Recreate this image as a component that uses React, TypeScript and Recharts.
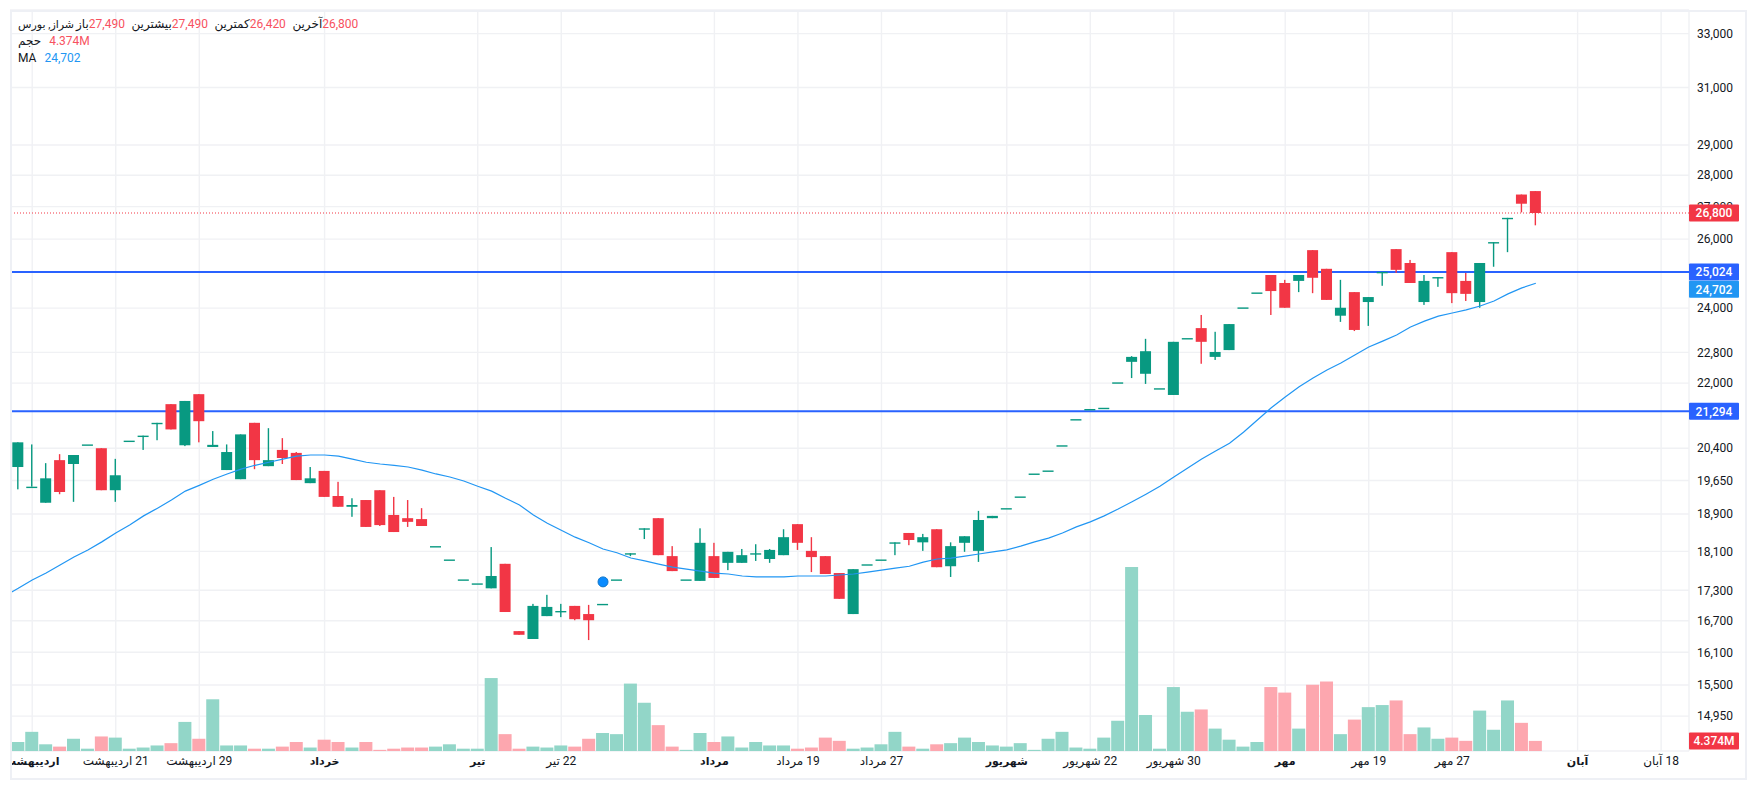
import { Bar, CartesianGrid, ComposedChart, Line, ReferenceDot, ReferenceLine, XAxis, YAxis } from "recharts";

const UP = "#089981";
const DOWN = "#f23645";
const FONT = "Roboto, 'DejaVu Sans', sans-serif";
const TOTAL_BARS = 120;

const opens = [
  19960, 19510, 19150, 20120, 20030, 20490, 20400, 19430, 20580, 20700,
  21010, 21470, 20470, 21720, 20430, 19890, 19680, 21010, 19980, 20360,
  20290, 19590, 19870, 19300, 19060, 19210, 19430, 18880, 18810, 18790,
  18210, 17930, 17520, 17440, 17340, 17840, 16500, 16350, 16790, 16890,
  16990, 16830, 17030, 17520, 18060, 18590, 18810, 18000, 17520, 17490,
  18000, 17860, 17860, 18060, 17940, 18020, 18680, 18110, 18000, 17650,
  16830, 17830, 17930, 18290, 18490, 18290, 18570, 17790, 18280, 18110,
  18810, 19030, 19290, 19810, 19880, 20470, 21100, 21350, 21380, 22020,
  22550, 22240, 21870, 21700, 23180, 23450, 22680, 22860, 24020, 24440,
  24940, 24710, 24770, 25670, 25120, 23790, 24450, 24170, 25030, 25700,
  25290, 24170, 24880, 25610, 24770, 24170, 25910, 26650, 27380, 27490,
];
const highs = [
  20540, 20490, 20050, 20260, 20240, 20490, 20400, 20150, 20580, 20700,
  21010, 21470, 21550, 21720, 20810, 20490, 20730, 21010, 20880, 20640,
  20310, 19960, 19870, 19620, 19250, 19210, 19430, 19280, 19210, 19030,
  18210, 17930, 17520, 17440, 18190, 17840, 16500, 17030, 17210, 17030,
  16990, 17010, 17030, 17520, 18060, 18590, 18810, 18210, 17520, 18590,
  18280, 18090, 18150, 18250, 18150, 18570, 18680, 18400, 18000, 17650,
  17730, 17830, 17930, 18290, 18490, 18470, 18570, 18290, 18420, 18970,
  18860, 19030, 19290, 19810, 19880, 20470, 21100, 21350, 21380, 22020,
  22700, 23160, 21870, 23080, 23180, 23810, 23350, 23560, 24020, 24440,
  24940, 24800, 24940, 25670, 25120, 24800, 24450, 24310, 25030, 25700,
  25380, 24940, 24880, 25610, 25000, 25290, 25910, 26650, 27380, 27490,
];
const lows = [
  19450, 19510, 19150, 19340, 19170, 20490, 19430, 19170, 20580, 20360,
  20590, 20850, 20450, 20540, 20430, 19890, 19680, 19910, 19980, 20030,
  19660, 19590, 19280, 19060, 18840, 18620, 18640, 18510, 18620, 18640,
  18210, 17930, 17520, 17440, 17340, 16870, 16430, 16350, 16790, 16770,
  16710, 16330, 17030, 17520, 18000, 18360, 18020, 17690, 17520, 17490,
  17550, 17710, 17860, 17900, 17860, 18020, 18130, 17670, 17630, 17130,
  16830, 17830, 17930, 18020, 18230, 18110, 17770, 17570, 18090, 17880,
  18810, 19030, 19290, 19810, 19880, 20470, 21100, 21350, 21380, 22020,
  22130, 21980, 21870, 21700, 23180, 22500, 22600, 22860, 24020, 24440,
  23810, 24010, 24450, 24420, 24230, 23620, 23370, 23510, 24630, 25000,
  24710, 24090, 24600, 24140, 24200, 24010, 25180, 25610, 26820, 26420,
];
const closes = [
  20540, 19510, 19700, 19390, 20240, 20490, 19430, 19770, 20580, 20700,
  21010, 20850, 21550, 21050, 20480, 20310, 20730, 20120, 20120, 20170,
  19660, 19700, 19280, 19060, 19100, 18620, 18660, 18510, 18730, 18640,
  18210, 17930, 17520, 17440, 17590, 16870, 16430, 16990, 16970, 16890,
  16730, 16710, 17030, 17520, 18060, 18590, 18020, 17690, 17520, 18280,
  17550, 18090, 18020, 18060, 18130, 18400, 18280, 17980, 17630, 17130,
  17730, 17830, 17930, 18290, 18340, 18400, 17770, 18210, 18420, 18770,
  18860, 19030, 19290, 19810, 19880, 20470, 21100, 21350, 21380, 22020,
  22680, 22830, 21870, 23080, 23180, 23080, 22810, 23560, 24020, 24440,
  24480, 24010, 24940, 24860, 24230, 24010, 23400, 24310, 25030, 25090,
  24710, 24770, 24880, 24420, 24400, 25290, 25910, 26650, 27090, 26800,
];
const maBeforeFirstBar = 17180;
const maValues = [
  17340, 17510, 17650, 17815, 17980, 18130, 18300, 18490, 18660, 18860,
  19030, 19210, 19410, 19540, 19680, 19800, 19910, 20000, 20070, 20145,
  20215, 20240, 20240, 20215, 20145, 20070, 20030, 20000, 19960, 19890,
  19800, 19730, 19640, 19520, 19410, 19250, 19100, 18880, 18700, 18550,
  18400, 18280, 18150, 18070, 17960, 17900, 17835, 17770, 17730, 17690,
  17650, 17630, 17590, 17570, 17570, 17570, 17590, 17590, 17590, 17610,
  17630, 17670, 17710, 17750, 17790, 17875, 17940, 17960, 18000, 18045,
  18090, 18130, 18210, 18300, 18380, 18490, 18620, 18730, 18860, 19010,
  19170, 19340, 19520, 19730, 19940, 20145, 20335, 20520, 20780, 21080,
  21380, 21650, 21905, 22130, 22340, 22520, 22730, 22940, 23100, 23265,
  23480, 23640, 23780, 23865, 23950, 24060, 24200, 24400, 24570, 24702,
];
const volumes = [
  3.9, 8.3, 2.9, 1.9, 5.3, 1.0, 6.3, 5.8, 1.0, 1.5,
  2.4, 3.4, 12.6, 5.3, 22.4, 2.4, 2.4, 1.0, 1.0, 1.9,
  3.9, 1.5, 4.9, 3.9, 1.5, 3.9, 0.5, 1.0, 1.5, 1.5,
  1.9, 2.9, 1.0, 1.0, 31.6, 7.3, 1.0, 1.9, 1.5, 2.4,
  1.9, 5.3, 7.8, 7.3, 29.2, 20.9, 11.2, 1.9, 0.5, 7.8,
  3.9, 6.3, 1.5, 3.9, 2.4, 2.4, 1.0, 1.5, 5.8, 4.4,
  1.0, 1.5, 2.9, 8.3, 1.9, 1.0, 2.9, 3.4, 5.8, 3.9,
  2.4, 1.9, 3.4, 0.5, 5.3, 8.3, 1.5, 1.0, 5.8, 13.1,
  79.7, 15.6, 1.0, 27.7, 17.0, 18.0, 9.7, 4.9, 1.9, 3.9,
  27.7, 25.3, 9.7, 28.7, 30.1, 7.3, 13.6, 19.0, 19.9, 21.9,
  7.3, 10.2, 5.3, 5.8, 4.4, 17.5, 9.2, 21.9, 12.2, 4.374,
];
const priceTicks = [33000, 31000, 29000, 28000, 27000, 26000, 24000, 22800, 22000, 20400, 19650, 18900, 18100, 17300, 16700, 16100, 15500, 14950];
const timeLabels: Record<number, string> = {
  1: "اردیبهشت",
  7: "21 اردیبهشت",
  13: "29 اردیبهشت",
  22: "خرداد",
  33: "تیر",
  39: "22 تیر",
  50: "مرداد",
  56: "19 مرداد",
  62: "27 مرداد",
  71: "شهریور",
  77: "22 شهریور",
  83: "30 شهریور",
  91: "مهر",
  97: "19 مهر",
  103: "27 مهر",
  112: "آبان",
  118: "18 آبان",
};
const monthStarts = [1, 22, 33, 50, 71, 91, 112];
const timeTicks = Object.keys(timeLabels).map(Number);
const levelLines = [25024, 21294];

// one extra slot on the left so the MA line runs into the pane edge
const rows = [
  { idx: -1, ma: maBeforeFirstBar } as any,
  ...Array.from({ length: TOTAL_BARS }, (_, i) => ({
    idx: i,
    open: opens[i],
    high: highs[i],
    low: lows[i],
    close: closes[i],
    ma: maValues[i],
    volume: volumes[i],
  })),
];

function barRect(props: any, fill: string, minHeight = 0) {
  const { x, y, width, height } = props;
  const top = height < 0 ? y + height : y;
  return <rect x={x} y={top} width={width} height={Math.max(Math.abs(height), minHeight)} fill={fill} />;
}

function CandleBody(props: any) {
  const d = props.payload;
  if (d.open === undefined) return null;
  return barRect(props, d.close < d.open ? DOWN : UP, 1.4);
}

function CandleWick(props: any) {
  const d = props.payload;
  if (d.open === undefined) return null;
  // a touch wider than the 1px bar, centred on it
  return barRect({ ...props, x: props.x - 0.2, width: props.width + 0.4 }, d.close < d.open ? DOWN : UP);
}

function VolumeBar(props: any) {
  const d = props.payload;
  if (d.volume === undefined) return null;
  return barRect(props, d.close < d.open ? "#fda7af" : "#92d6c8");
}

function TimeTick({ x, y, payload }: any) {
  const major = monthStarts.includes(payload.value);
  return (
    <text x={x} y={y + 6} textAnchor="middle" direction="rtl" fontSize={major ? 11 : 12} fontWeight={major ? 700 : 400} fontFamily={FONT} fill="#131722">
      {timeLabels[payload.value]}
    </text>
  );
}

function axisTag(text: string, fill: string, dy = 0) {
  return ({ viewBox }: any) => {
    const left = viewBox.x + viewBox.width;
    const mid = viewBox.y + dy;
    return (
      <g>
        <rect x={left} y={mid - 8.5} width={50} height={17} rx={1} fill={fill} />
        <text x={left + 25} y={mid + 4.3} textAnchor="middle" fontSize={12} fontWeight={500} fontFamily={FONT} fill="#fff">
          {text}
        </text>
      </g>
    );
  };
}

function Legend() {
  const label = { color: "#131722" };
  const price = { color: "#f7525f", marginRight: 6.5 };
  const row = { display: "flex", height: 17, lineHeight: "17px", whiteSpace: "nowrap" as const };
  return (
    <div style={{ position: "absolute", left: 18, top: 16, fontFamily: FONT, fontSize: 12 }}>
      <div style={row}>
        <span style={{ ...label, fontSize: 11, marginRight: 2 }} dir="rtl">شراز, بورس</span>
        <span style={label}>باز</span>
        <span style={price}>27,490</span>
        <span style={label}>بیشترین</span>
        <span style={price}>27,490</span>
        <span style={label}>کمترین</span>
        <span style={price}>26,420</span>
        <span style={label}>آخرین</span>
        <span style={price}>26,800</span>
      </div>
      <div style={row}>
        <span style={{ ...label, marginRight: 8 }}>حجم</span>
        <span style={{ color: "#f7525f" }}>4.374M</span>
      </div>
      <div style={row}>
        <span style={{ ...label, marginRight: 8 }}>MA</span>
        <span style={{ color: "#2196f3" }}>24,702</span>
      </div>
    </div>
  );
}

export default function App() {
  const xPadding = { left: 0, right: 7 };
  return (
    <div style={{ position: "absolute", left: 0, top: 0, width: 1757, height: 790, background: "#fff", overflow: "hidden" }}>
      <div style={{ position: "absolute", left: -20, top: 0 }}>
        <ComposedChart width={1777} height={790} data={rows} margin={{ top: 10, right: 10, bottom: 10, left: 17.4 }}>
          <CartesianGrid xAxisId="time" yAxisId="price" stroke="#f0f1f4" strokeWidth={1.4} />
          <XAxis
            xAxisId="time"
            dataKey="idx"
            scale="band"
            ticks={timeTicks}
            interval={0}
            height={29}
            padding={xPadding}
            axisLine={false}
            tickLine={false}
            tick={<TimeTick />}
          />
          <XAxis xAxisId="wick" dataKey="idx" scale="band" padding={xPadding} height={0} hide />
          <XAxis xAxisId="volume" dataKey="idx" scale="band" padding={xPadding} height={0} hide />
          <YAxis
            yAxisId="price"
            orientation="right"
            scale="log"
            domain={[14358, 33916]}
            allowDataOverflow
            ticks={priceTicks}
            interval={0}
            width={58}
            axisLine={false}
            tickLine={false}
            tickMargin={2}
            tickFormatter={(v: number) => v.toLocaleString("en-US")}
            tick={{ fontSize: 12, fontFamily: FONT, fill: "#131722" }}
          />
          <YAxis yAxisId="volume" domain={[0, 321]} allowDataOverflow width={0} hide />
          {levelLines.map((level) => (
            <ReferenceLine key={level} xAxisId="time" yAxisId="price" y={level} stroke="#2962ff" strokeWidth={2} zIndex={100} />
          ))}
          <Bar xAxisId="volume" yAxisId="volume" dataKey="volume" barSize={13} shape={VolumeBar} isAnimationActive={false} />
          <Bar
            xAxisId="wick"
            yAxisId="price"
            dataKey={(d: any) => (d.open === undefined ? undefined : [d.low, d.high])}
            barSize={1}
            shape={CandleWick}
            isAnimationActive={false}
          />
          <Bar
            xAxisId="time"
            yAxisId="price"
            dataKey={(d: any) => (d.open === undefined ? undefined : [Math.min(d.open, d.close), Math.max(d.open, d.close)])}
            barSize={11}
            shape={CandleBody}
            isAnimationActive={false}
          />
          <Line xAxisId="time" yAxisId="price" dataKey="ma" stroke="#2196f3" strokeWidth={1.2} dot={false} type="linear" isAnimationActive={false} />
          <ReferenceLine xAxisId="time" yAxisId="price" y={26800} stroke={DOWN} strokeWidth={1.2} strokeDasharray="1 2" />
          {levelLines.map((level) => (
            <ReferenceLine key={level} xAxisId="time" yAxisId="price" y={level} stroke="none" zIndex={2500} label={axisTag(level.toLocaleString("en-US"), "#2962ff")} />
          ))}
          <ReferenceLine xAxisId="time" yAxisId="price" y={26800} stroke="none" zIndex={2500} label={axisTag("26,800", DOWN)} />
          <ReferenceLine xAxisId="time" yAxisId="price" y={24702} stroke="none" zIndex={2500} label={axisTag("24,702", "#2196f3", 6)} />
          <ReferenceLine xAxisId="volume" yAxisId="volume" y={4.374} stroke="none" zIndex={2500} label={axisTag("4.374M", DOWN)} />
          <ReferenceDot xAxisId="time" yAxisId="price" x={42} y={17470} r={5} fill="#0a8bff" stroke="#1277c9" strokeWidth={1} />
        </ComposedChart>
      </div>
      <div style={{ position: "absolute", left: 0, top: 0, width: 10, height: 790, background: "#fff" }} />
      <div style={{ position: "absolute", left: 10, top: 10, width: 1737, height: 770, boxSizing: "border-box", border: "2px solid #eef0f5", pointerEvents: "none" }} />
      <Legend />
    </div>
  );
}
